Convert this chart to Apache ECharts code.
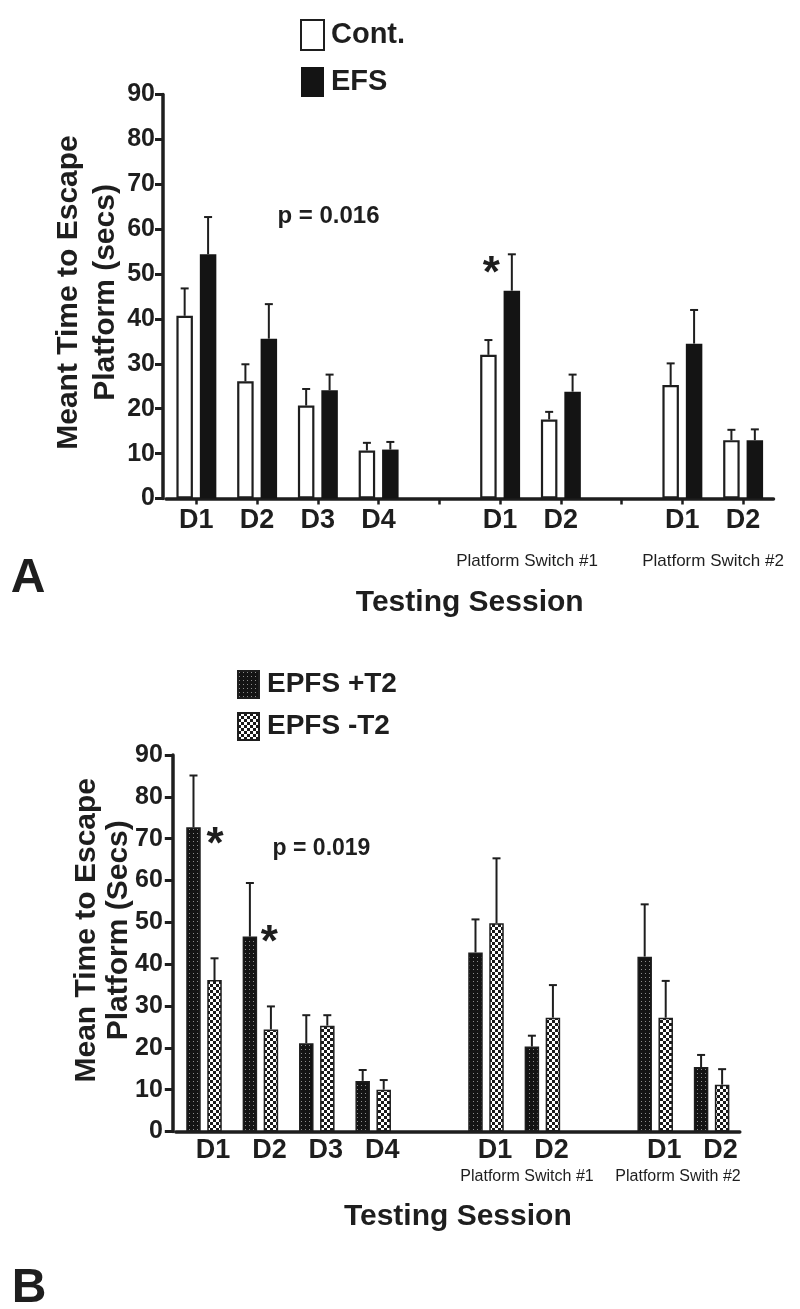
<!DOCTYPE html>
<html><head><meta charset="utf-8">
<script src="https://cdn.jsdelivr.net/npm/echarts@6/dist/echarts.min.js"></script>
<style>html,body{margin:0;padding:0;background:#fff}#c{width:800px;height:1309px}</style>
</head><body><div id="c"></div>
<script>
// ---------- data ----------
const categories = ['D1', 'D2', 'D3', 'D4', '', 'D1', 'D2', '', 'D1', 'D2'];
const yTickMax = 90;
const yTickStep = 10;

// Panel A
const contMean = [40.7, 26.1, 20.7, 10.7, null, 32.0, 17.6, null, 25.3, 13.0];
const contErr  = [6.1, 3.8, 3.7, 1.7, null, 3.3, 1.7, null, 4.8, 2.3];
const efsMean  = [54.4, 35.6, 24.1, 10.9, null, 46.3, 23.8, null, 34.5, 13.0];
const efsErr   = [8.3, 7.7, 3.5, 1.7, null, 8.1, 3.8, null, 7.5, 2.4];

// Panel B
const plusT2Mean  = [72.7, 46.6, 21.1, 12.1, null, 42.8, 20.3, null, 41.8, 15.4];
const plusT2Err   = [12.4, 12.8, 6.7, 2.6, null, 7.9, 2.6, null, 12.5, 2.9];
const minusT2Mean = [36.2, 24.4, 25.3, 10.0, null, 49.8, 27.2, null, 27.2, 11.2];
const minusT2Err  = [5.2, 5.5, 2.5, 2.3, null, 15.5, 7.8, null, 8.8, 3.7];

// ---------- helpers ----------
const FONT = '"Liberation Sans", Arial, Helvetica, sans-serif';
const INK = '#1e1e1e';

function makeDots() {
  const c = document.createElement('canvas'); c.width = 4; c.height = 4;
  const g = c.getContext('2d');
  g.fillStyle = '#141414'; g.fillRect(0, 0, 4, 4);
  g.fillStyle = '#8c8c8c'; g.fillRect(1, 1, 1, 1);
  return c;
}
function makeChecker() {
  const c = document.createElement('canvas'); c.width = 6; c.height = 6;
  const g = c.getContext('2d');
  g.fillStyle = '#ffffff'; g.fillRect(0, 0, 6, 6);
  g.fillStyle = '#1a1a1a'; g.fillRect(0, 0, 3, 3); g.fillRect(3, 3, 3, 3);
  return c;
}
const dotsPattern = { image: makeDots(), repeat: 'repeat' };
const checkerPattern = { image: makeChecker(), repeat: 'repeat' };

function errData(mean, err) {
  const out = [];
  mean.forEach((m, i) => { if (m != null) out.push([i, m, err[i]]); });
  return out;
}
function errRender(offset, cap) {
  return function (params, api) {
    const i = api.value(0), m = api.value(1), e = api.value(2);
    const p0 = api.coord([i, m]);
    const p1 = api.coord([i, m + e]);
    const x = p0[0] + offset;
    const st = { stroke: INK, lineWidth: 2 };
    return {
      type: 'group',
      children: [
        { type: 'line', shape: { x1: x, y1: p0[1], x2: x, y2: p1[1] }, style: st },
        { type: 'line', shape: { x1: x - cap / 2, y1: p1[1], x2: x + cap / 2, y2: p1[1] }, style: st }
      ]
    };
  };
}

const BW_A = 16.5, GAP_A = 0.42, OFF_A = BW_A * (1 + GAP_A) / 2;
const BW_B = 14.5, GAP_B = 0.45, OFF_B = BW_B * (1 + GAP_B) / 2;

function yAxisCfg(gridIndex, name, lineHeight, nameGap, shiftUp, labelMargin, offset) {
  return {
    gridIndex, type: 'value', min: 0, max: yTickMax, interval: yTickStep, offset,
    name, nameLocation: 'middle', nameRotate: 90, nameGap, nameMoveOverlap: false,
    nameTextStyle: { fontFamily: FONT, fontSize: 30, fontWeight: 'bold', color: INK, lineHeight, padding: [0, 0, 0, shiftUp * 2] },
    axisLine: { show: true, lineStyle: { color: INK, width: 3.5 } },
    axisTick: { show: true, length: 8, lineStyle: { color: INK, width: 3 } },
    axisLabel: { fontFamily: FONT, fontSize: 25, fontWeight: 'bold', color: INK, margin: labelMargin },
    splitLine: { show: false }
  };
}

const chart = echarts.init(document.getElementById('c'), null, { renderer: 'canvas' });

chart.setOption({
  backgroundColor: '#ffffff',
  animation: false,
  grid: [
    { left: 166, top: 94.5, width: 607.5, height: 404 },
    { left: 175.8, top: 755, width: 564, height: 376.5 }
  ],
  legend: [
    {
      data: ['Cont.', 'EFS'], orient: 'vertical', left: 295, top: 14,
      itemWidth: 23, itemHeight: 30, itemGap: 16, icon: 'rect', selectedMode: false,
      textStyle: { fontFamily: FONT, fontSize: 29, fontWeight: 'bold', color: INK, padding: [0, 0, 0, 2] }
    },
    {
      data: ['EPFS +T2', 'EPFS -T2'], orient: 'vertical', left: 232, top: 665,
      itemWidth: 21, itemHeight: 27, itemGap: 13, icon: 'rect', selectedMode: false,
      textStyle: { fontFamily: FONT, fontSize: 28, fontWeight: 'bold', color: INK, padding: [0, 0, 0, 3] }
    }
  ],
  xAxis: [
    {
      gridIndex: 0, type: 'category', data: categories,
      name: 'Testing Session', nameLocation: 'middle', nameGap: 89,
      nameTextStyle: { fontFamily: FONT, fontSize: 30, fontWeight: 'bold', color: INK },
      axisLine: { lineStyle: { color: INK, width: 3.5 } },
      axisTick: { show: true, alignWithLabel: true, length: 6, lineStyle: { color: INK, width: 2.5 } },
      axisLabel: { interval: 0, fontFamily: FONT, fontSize: 27, fontWeight: 'bold', color: INK, margin: 9 }
    },
    {
      gridIndex: 1, type: 'category', data: categories,
      name: 'Testing Session', nameLocation: 'middle', nameGap: 70,
      nameTextStyle: { fontFamily: FONT, fontSize: 30, fontWeight: 'bold', color: INK },
      axisLine: { lineStyle: { color: INK, width: 3.5 } },
      axisTick: { show: false },
      axisLabel: { interval: 0, fontFamily: FONT, fontSize: 27, fontWeight: 'bold', color: INK, margin: 6, padding: [0, 0, 0, 18] }
    }
  ],
  yAxis: [
    yAxisCfg(0, 'Meant Time to Escape\nPlatform (secs)', 36.5, 39.5, 4, 8, 3),
    yAxisCfg(1, 'Mean Time to Escape\nPlatform (Secs)', 32, 38, 13, 10, 3)
  ],
  series: [
    {
      name: 'Cont.', type: 'bar', xAxisIndex: 0, yAxisIndex: 0, data: contMean,
      barWidth: BW_A, barGap: (GAP_A * 100) + '%',
      itemStyle: { color: '#ffffff', borderColor: INK, borderWidth: 2.2 }
    },
    {
      name: 'EFS', type: 'bar', xAxisIndex: 0, yAxisIndex: 0, data: efsMean,
      barWidth: BW_A, barGap: (GAP_A * 100) + '%',
      itemStyle: { color: '#141414', borderColor: INK, borderWidth: 0 },
      markPoint: {
        symbol: 'circle', symbolSize: 0,
        label: { show: true, formatter: '*', fontFamily: FONT, fontSize: 44, fontWeight: 'bold', color: INK, offset: [-20.5, 10] },
        data: [{ coord: [5, 52] }]
      }
    },
    {
      name: 'EPFS +T2', type: 'bar', xAxisIndex: 1, yAxisIndex: 1, data: plusT2Mean,
      barWidth: BW_B, barGap: (GAP_B * 100) + '%',
      itemStyle: { color: dotsPattern, borderColor: INK, borderWidth: 1.5 },
      markPoint: {
        symbol: 'circle', symbolSize: 0,
        label: { show: true, formatter: '*', fontFamily: FONT, fontSize: 44, fontWeight: 'bold', color: INK },
        data: [
          { coord: [0, 70.6], label: { offset: [21.5, 10] } },
          { coord: [1, 47.3], label: { offset: [19.5, 10] } }
        ]
      }
    },
    {
      name: 'EPFS -T2', type: 'bar', xAxisIndex: 1, yAxisIndex: 1, data: minusT2Mean,
      barWidth: BW_B, barGap: (GAP_B * 100) + '%',
      itemStyle: { color: checkerPattern, borderColor: INK, borderWidth: 1.5 }
    },
    { type: 'custom', xAxisIndex: 0, yAxisIndex: 0, z: 5, data: errData(contMean, contErr), renderItem: errRender(-OFF_A, 8) },
    { type: 'custom', xAxisIndex: 0, yAxisIndex: 0, z: 5, data: errData(efsMean, efsErr), renderItem: errRender(OFF_A, 8) },
    { type: 'custom', xAxisIndex: 1, yAxisIndex: 1, z: 5, data: errData(plusT2Mean, plusT2Err), renderItem: errRender(-OFF_B, 8) },
    { type: 'custom', xAxisIndex: 1, yAxisIndex: 1, z: 5, data: errData(minusT2Mean, minusT2Err), renderItem: errRender(OFF_B, 8) }
  ],
  graphic: [
    { type: 'text', x: 28, y: 579, style: { text: 'A', fontFamily: FONT, fontSize: 48, fontWeight: 'bold', fill: INK, textAlign: 'center', textVerticalAlign: 'middle' } },
    { type: 'text', x: 29, y: 1289, style: { text: 'B', fontFamily: FONT, fontSize: 48, fontWeight: 'bold', fill: INK, textAlign: 'center', textVerticalAlign: 'middle' } },
    { type: 'text', x: 328.5, y: 216, style: { text: 'p = 0.016', fontFamily: FONT, fontSize: 24, fontWeight: 'bold', fill: INK, textAlign: 'center', textVerticalAlign: 'middle' } },
    { type: 'text', x: 321.5, y: 849, style: { text: 'p = 0.019', fontFamily: FONT, fontSize: 23, fontWeight: 'bold', fill: INK, textAlign: 'center', textVerticalAlign: 'middle' } },
    { type: 'text', x: 527, y: 561, style: { text: 'Platform Switch #1', fontFamily: FONT, fontSize: 17, fill: INK, textAlign: 'center', textVerticalAlign: 'middle' } },
    { type: 'text', x: 713, y: 561, style: { text: 'Platform Switch #2', fontFamily: FONT, fontSize: 17, fill: INK, textAlign: 'center', textVerticalAlign: 'middle' } },
    { type: 'text', x: 527, y: 1177, style: { text: 'Platform Switch #1', fontFamily: FONT, fontSize: 16, fill: INK, textAlign: 'center', textVerticalAlign: 'middle' } },
    { type: 'text', x: 678, y: 1177, style: { text: 'Platform Swith #2', fontFamily: FONT, fontSize: 16, fill: INK, textAlign: 'center', textVerticalAlign: 'middle' } }
  ]
});
</script>
</body></html>
